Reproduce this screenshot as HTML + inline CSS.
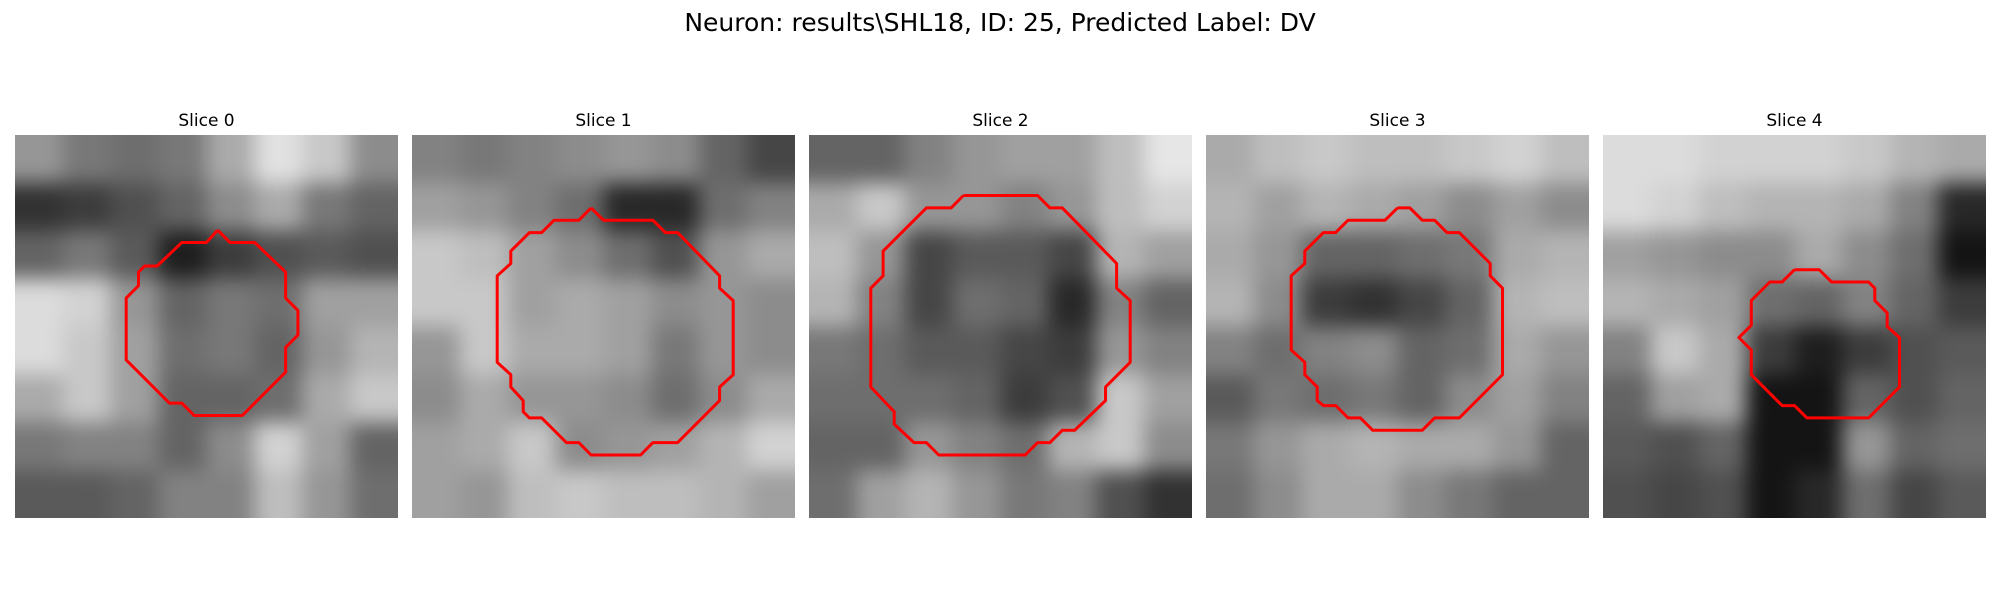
<!DOCTYPE html>
<html><head><meta charset="utf-8">
<style>
html,body{margin:0;padding:0;background:#fff;}
svg{display:block;}
text{font-family:"DejaVu Sans","Liberation Sans",sans-serif;fill:#000;}
</style></head>
<body>
<svg id="fig" width="2000" height="600" viewBox="0 0 2000 600">
<defs>
<filter id="soft" x="-0.2" y="-0.2" width="1.4" height="1.4" color-interpolation-filters="sRGB">
<feGaussianBlur stdDeviation="10"/>
</filter>
</defs>
<text x="1000" y="31" text-anchor="middle" font-size="25">Neuron: results\SHL18, ID: 25, Predicted Label: DV</text>
</svg>
<script>
const panelTitles = ["Slice 0","Slice 1","Slice 2","Slice 3","Slice 4"];
const grid0 = [
[150,120,110,120,170,225,200,140],
[50,60,80,100,140,170,120,100],
[100,120,90,30,60,80,90,80],
[220,210,150,100,120,110,160,160],
[220,200,160,110,120,100,150,180],
[170,200,160,100,100,110,170,200],
[120,130,130,100,140,210,160,100],
[90,90,100,130,130,190,150,110]];
const grid1 = [
[130,120,130,140,150,140,100,70],
[160,150,130,110,40,40,110,130],
[200,190,160,140,110,80,150,170],
[200,200,160,170,160,140,150,140],
[150,200,170,170,160,120,150,140],
[140,170,150,150,140,110,140,170],
[160,170,200,140,150,160,180,210],
[160,150,190,200,190,190,180,160]];
const grid2 = [
[100,100,130,150,160,160,190,230],
[170,200,150,150,130,150,190,210],
[190,150,70,90,90,70,180,160],
[180,130,70,110,100,40,130,100],
[120,110,90,90,70,60,150,130],
[110,110,110,100,60,80,200,160],
[100,100,150,130,110,180,200,140],
[110,160,180,150,120,130,80,50]];
const grid3 = [
[170,190,200,190,190,200,210,190],
[180,160,180,170,160,140,160,140],
[170,150,100,100,110,120,170,180],
[180,140,60,50,70,100,180,190],
[130,110,130,140,100,110,170,150],
[90,120,110,120,100,140,160,130],
[120,150,170,180,170,170,150,100],
[110,140,170,170,140,120,100,100]];
const grid4 = [
[220,220,210,210,210,200,180,170],
[220,210,190,180,180,170,130,40],
[160,150,140,140,170,140,110,20],
[180,170,160,110,100,130,100,60],
[130,200,170,60,30,60,80,90],
[100,160,170,20,20,100,80,100],
[90,80,100,20,20,150,100,110],
[80,70,80,20,40,110,70,90]];
const grids = [grid0,grid1,grid2,grid3,grid4];
// contour vertices in image-pixel units (31x31 image), stored as [col,row]
const contour0 = [[16.4,7.7],[17.4,8.7],[19.4,8.7],[21.9,11.1],[21.9,13.2],[22.9,14.2],[22.9,16.2],[21.9,17.2],[21.9,19.2],[18.4,22.7],[14.5,22.7],[13.5,21.7],[12.5,21.7],[9.0,18.2],[9.0,13.2],[10.0,12.2],[10.0,11.1],[10.5,10.6],[11.5,10.6],[13.5,8.7],[15.5,8.7]];
const contour1 = [[14.5,5.9],[15.5,6.9],[19.5,6.9],[20.5,7.9],[21.5,7.9],[24.9,11.4],[24.9,12.4],[26.0,13.4],[26.0,19.4],[24.9,20.4],[24.9,21.5],[21.5,24.9],[19.5,24.9],[18.5,25.9],[14.5,25.9],[13.5,24.9],[12.5,24.9],[10.5,22.9],[9.5,22.9],[9.0,22.4],[9.0,21.5],[8.0,20.4],[8.0,19.4],[6.9,18.4],[6.9,11.4],[8.0,10.4],[8.0,9.4],[9.0,8.4],[9.5,7.9],[10.5,7.9],[11.5,6.9],[13.5,6.9]];
const contour2 = [[12.5,4.9],[18.5,4.9],[19.5,5.9],[20.5,5.9],[24.9,10.4],[24.9,12.4],[26.0,13.4],[26.0,18.4],[24.0,20.4],[24.0,21.5],[21.5,23.9],[20.5,23.9],[19.5,24.9],[18.5,24.9],[17.5,25.9],[10.5,25.9],[9.5,24.9],[8.5,24.9],[6.9,23.4],[6.9,22.4],[5.0,20.4],[5.0,12.4],[6.0,11.4],[6.0,9.4],[9.5,5.9],[11.5,5.9]];
const contour3 = [[15.5,5.9],[16.5,5.9],[17.5,6.9],[18.5,6.9],[19.5,7.9],[20.5,7.9],[23.0,10.4],[23.0,11.4],[24.0,12.4],[24.0,19.4],[20.5,22.9],[18.5,22.9],[17.5,23.9],[13.5,23.9],[12.5,22.9],[11.5,22.9],[10.5,21.9],[9.5,21.9],[9.0,21.5],[9.0,20.4],[8.0,19.4],[8.0,18.4],[6.9,17.4],[6.9,11.4],[8.0,10.4],[8.0,9.4],[9.5,7.9],[10.5,7.9],[11.5,6.9],[14.5,6.9]];
const contour4 = [[15.5,10.9],[17.5,10.9],[18.5,11.9],[21.5,11.9],[22.0,12.4],[22.0,13.4],[23.0,14.4],[23.0,15.5],[24.0,16.4],[24.0,20.4],[21.5,22.9],[16.5,22.9],[15.5,21.9],[14.5,21.9],[12.0,19.4],[12.0,17.4],[11.0,16.4],[12.0,15.4],[12.0,13.4],[13.5,11.9],[14.5,11.9]];
const contours = [contour0,contour1,contour2,contour3,contour4];

const NS = "http://www.w3.org/2000/svg";
const svg = document.getElementById('fig');
const defs = svg.querySelector('defs');
const PANEL_X0 = 15, PANEL_STEP = 397, PANEL_Y = 135, PANEL_SIZE = 383, IMG_N = 31, PAD = 40;
function px(i){ return PANEL_X0 + i*PANEL_STEP; }
function sx(i, c){ return px(i) + c/IMG_N*PANEL_SIZE; }
function sy(r){ return PANEL_Y + r/IMG_N*PANEL_SIZE; }

grids.forEach((g, i) => {
  const t = document.createElementNS(NS,'text');
  t.setAttribute('x', px(i)+PANEL_SIZE/2);
  t.setAttribute('y', 126);
  t.setAttribute('text-anchor','middle');
  t.setAttribute('font-size','17');
  t.textContent = panelTitles[i];
  
  
  svg.appendChild(t);

  const cp = document.createElementNS(NS,'clipPath');
  cp.setAttribute('id','clip'+i);
  const cr = document.createElementNS(NS,'rect');
  cr.setAttribute('x', px(i)); cr.setAttribute('y', PANEL_Y);
  cr.setAttribute('width', PANEL_SIZE); cr.setAttribute('height', PANEL_SIZE);
  cp.appendChild(cr); defs.appendChild(cp);

  const outer = document.createElementNS(NS,'g');
  outer.setAttribute('clip-path','url(#clip'+i+')');
  
  
  const panel = document.createElementNS(NS,'g');
  panel.setAttribute('filter','url(#soft)');
  const n = g.length, cs = PANEL_SIZE/n;
  g.forEach((row, r) => row.forEach((v, c) => {
    let x0 = px(i)+c*cs, y0 = PANEL_Y+r*cs, w = cs+0.6, h = cs+0.6;
    if (c===0){ x0 -= PAD; w += PAD; }
    if (c===n-1){ w += PAD; }
    if (r===0){ y0 -= PAD; h += PAD; }
    if (r===n-1){ h += PAD; }
    const rect = document.createElementNS(NS,'rect');
    rect.setAttribute('x', x0.toFixed(2));
    rect.setAttribute('y', y0.toFixed(2));
    rect.setAttribute('width', w.toFixed(2));
    rect.setAttribute('height', h.toFixed(2));
    rect.setAttribute('fill', `rgb(${v},${v},${v})`);
    
    
    panel.appendChild(rect);
  }));
  outer.appendChild(panel);
  svg.appendChild(outer);

  const pts = contours[i].concat([contours[i][0]]).map(p => sx(i,p[0]).toFixed(1)+','+sy(p[1]).toFixed(1)).join(' ');
  const pl = document.createElementNS(NS,'polyline');
  pl.setAttribute('points', pts);
  pl.setAttribute('fill','none');
  pl.setAttribute('stroke','#ff0000');
  pl.setAttribute('stroke-width','3');
  pl.setAttribute('stroke-linejoin','round');
  
  
  svg.appendChild(pl);
});
</script>
</body></html>
